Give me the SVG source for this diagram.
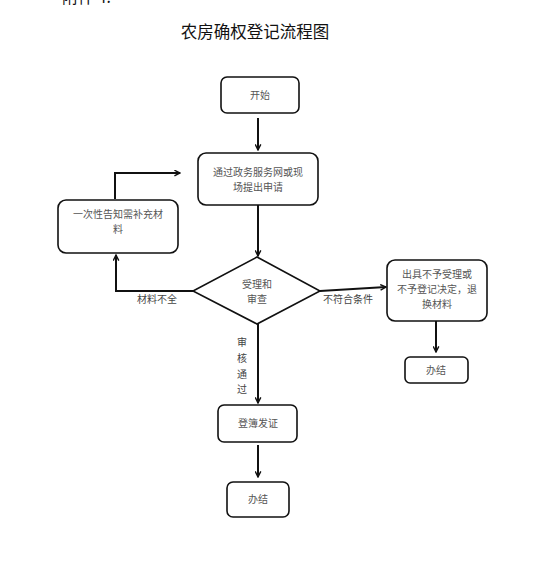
<svg xmlns="http://www.w3.org/2000/svg" width="533" height="582" viewBox="0 0 533 582">
<style>
.box{fill:#fff;stroke:#111;stroke-width:1.6}
.t{font-family:"Noto Sans CJK SC","Noto Sans",sans-serif;font-size:10px;fill:#555;text-anchor:middle}
.lbl{font-family:"Noto Sans CJK SC","Noto Sans",sans-serif;font-size:10px;fill:#444}
.c{fill:none;stroke:#111;stroke-width:2}
</style>
<defs>
<marker id="ah" viewBox="0 0 10 10" refX="9" refY="5" markerWidth="7" markerHeight="7" orient="auto" markerUnits="userSpaceOnUse">
<path d="M1,1 L9,5 L1,9" fill="none" stroke="#111" stroke-width="2"/>
</marker>
</defs>
<rect width="533" height="582" fill="#fff"/>
<text x="62" y="3" font-family="Noto Sans CJK SC,sans-serif" font-size="16" fill="#111">附件 4:</text>
<text x="255" y="38" font-family="Noto Sans CJK SC,sans-serif" font-size="16.5" fill="#111" text-anchor="middle">农房确权登记流程图</text>
<g id="connectors">
<line class="c" x1="258" y1="118" x2="258" y2="150" marker-end="url(#ah)"/>
<line class="c" x1="258" y1="205" x2="258" y2="256" marker-end="url(#ah)"/>
<polyline class="c" points="193,291 116,291 116,255" marker-end="url(#ah)"/>
<polyline class="c" points="115,199 115,173 180,173" marker-end="url(#ah)"/>
<line class="c" x1="320" y1="291" x2="386" y2="287" marker-end="url(#ah)"/>
<line class="c" x1="436" y1="321" x2="436" y2="352" marker-end="url(#ah)"/>
<line class="c" x1="258" y1="324" x2="258" y2="403" marker-end="url(#ah)"/>
<line class="c" x1="258" y1="445" x2="258" y2="477" marker-end="url(#ah)"/>
<text class="lbl" x="137" y="303">材料不全</text>
<text class="lbl" x="323" y="303">不符合条件</text>
<text class="lbl" x="237" y="346">审</text>
<text class="lbl" x="237" y="362">核</text>
<text class="lbl" x="237" y="378">通</text>
<text class="lbl" x="237" y="393">过</text>
</g>
<g id="start">
<rect class="box" x="221" y="77" width="78" height="36" rx="6"/>
<text class="t" x="260" y="99">开始</text>
</g>
<g id="apply">
<rect class="box" x="198" y="153" width="120" height="52" rx="8"/>
<text class="t" x="258" y="176">通过政务服务网或现</text>
<text class="t" x="258" y="191">场提出申请</text>
</g>
<g id="supplement">
<rect class="box" x="58" y="200" width="120" height="53" rx="8"/>
<text class="t" x="118" y="218">一次性告知需补充材</text>
<text class="t" x="118" y="233">料</text>
</g>
<g id="review">
<polygon class="box" points="257,257 320,291 257,324 193,291"/>
<text class="t" x="257" y="288">受理和</text>
<text class="t" x="257" y="303">审查</text>
</g>
<g id="reject">
<rect class="box" x="387" y="260" width="100" height="61" rx="8"/>
<text class="t" x="437" y="278">出具不予受理或</text>
<text class="t" x="437" y="293">不予登记决定，退</text>
<text class="t" x="437" y="308">换材料</text>
</g>
<g id="end1">
<rect class="box" x="405" y="357" width="63" height="26" rx="5"/>
<text class="t" x="436" y="374">办结</text>
</g>
<g id="register">
<rect class="box" x="218" y="405" width="79" height="37" rx="6"/>
<text class="t" x="258" y="427">登簿发证</text>
</g>
<g id="end2">
<rect class="box" x="227" y="482" width="62" height="35" rx="6"/>
<text class="t" x="258" y="503">办结</text>
</g>
</svg>
